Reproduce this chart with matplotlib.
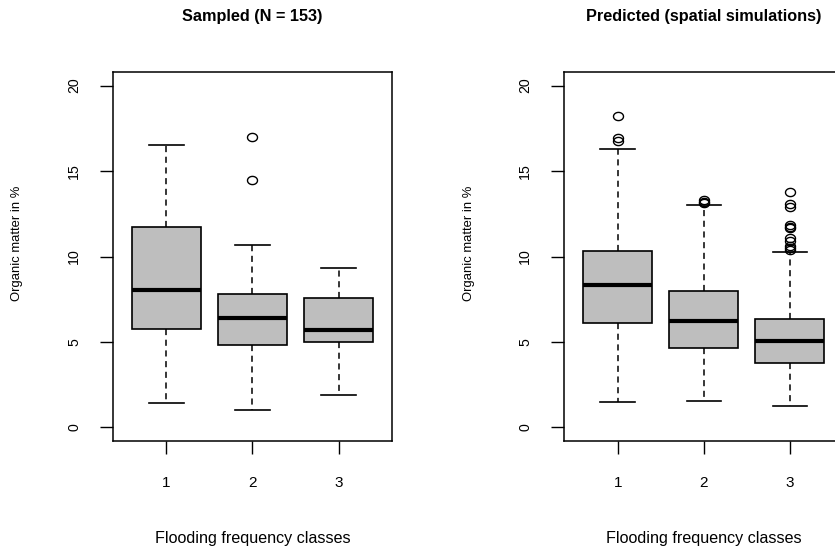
import matplotlib
matplotlib.use('Agg')
import matplotlib.pyplot as plt
import numpy as np
from matplotlib.path import Path

plt.rcParams['font.family'] = ['Liberation Sans', 'DejaVu Sans']

classes = [1, 2, 3]
titles = ['Sampled (N = 153)', 'Predicted (spatial simulations)']

# sampled data: box statistics per flooding class
sampled_whislo = [1.4, 1.0, 1.9]
sampled_q1 = [5.75, 4.8, 5.0]
sampled_med = [8.05, 6.4, 5.72]
sampled_q3 = [11.7, 7.8, 7.6]
sampled_whishi = [16.5, 10.7, 9.3]
sampled_fliers = [[], [17.0, 14.5], []]

# predicted data (spatial simulations)
predicted_whislo = [1.5, 1.55, 1.27]
predicted_q1 = [6.1, 4.65, 3.77]
predicted_med = [8.35, 6.2, 5.05]
predicted_q3 = [10.33, 8.0, 6.37]
predicted_whishi = [16.3, 13.02, 10.25]
predicted_fliers = [[18.25, 16.95, 16.78],
                    [13.32, 13.2, 13.12],
                    [13.76, 13.1, 12.92, 11.85, 11.72, 11.65, 11.1, 10.92, 10.6, 10.48, 10.4]]

# the picture is slightly stretched sideways, so the open circles are a bit wide
_t = np.linspace(0, 2 * np.pi, 60)
wide_circle = Path(np.column_stack([np.cos(_t), 0.82 * np.sin(_t)]), closed=True)


def make_stats(whislo, q1, med, q3, whishi, fliers):
    stats = []
    for i in range(len(med)):
        stats.append(dict(whislo=whislo[i], q1=q1[i], med=med[i], q3=q3[i],
                          whishi=whishi[i], fliers=fliers[i], label=str(classes[i])))
    return stats


def draw_panel(ax, stats, title):
    ax.bxp(stats, positions=classes, widths=0.8, patch_artist=True,
           boxprops=dict(facecolor='#bebebe', edgecolor='black', linewidth=1.2),
           medianprops=dict(color='black', linewidth=3.0, solid_capstyle='butt'),
           whiskerprops=dict(color='black', linewidth=1.1, linestyle=(0, (4, 3))),
           capprops=dict(color='black', linewidth=1.2),
           capwidths=0.4,
           flierprops=dict(marker=wide_circle, markerfacecolor='none', markeredgecolor='black',
                           markersize=7.2, markeredgewidth=1.0))
    ax.set_xlim(0.38, 3.62)
    ax.set_ylim(-0.8, 20.8)
    ax.set_yticks([0, 5, 10, 15, 20])
    ax.set_xticks(classes)
    ax.set_xticklabels([str(c) for c in classes])
    ax.tick_params(axis='both', direction='out', length=9.5, width=1)
    ax.tick_params(axis='x', pad=16, labelsize=11)
    ax.tick_params(axis='y', pad=13.5, labelsize=10.2)
    for lab in ax.get_yticklabels():
        lab.set_rotation(90)
        lab.set_va('center')
    for sp in ax.spines.values():
        sp.set_linewidth(1.1)
    ax.set_title(title, fontsize=11.7, fontweight='bold', y=1 + (72 - 16) / 369., va='center', pad=0)
    ax.set_xlabel('Flooding frequency classes', fontsize=11.6, va='center')
    ax.xaxis.set_label_coords(0.5, (441 - 538) / 369.)
    ax.set_ylabel('Organic matter in %', fontsize=9.4, va='center')
    ax.yaxis.set_label_coords((17.5 - 113) / 279., (441 - 243) / 369.)


fig = plt.figure(figsize=(8.35, 5.51), dpi=100)
ax1 = fig.add_axes([113 / 835., 110 / 551., 279 / 835., 369 / 551.])
ax2 = fig.add_axes([564.3 / 835., 110 / 551., 279 / 835., 369 / 551.])

draw_panel(ax1, make_stats(sampled_whislo, sampled_q1, sampled_med, sampled_q3,
                           sampled_whishi, sampled_fliers), titles[0])
draw_panel(ax2, make_stats(predicted_whislo, predicted_q1, predicted_med, predicted_q3,
                           predicted_whishi, predicted_fliers), titles[1])

fig.savefig('out.png', dpi=100)
